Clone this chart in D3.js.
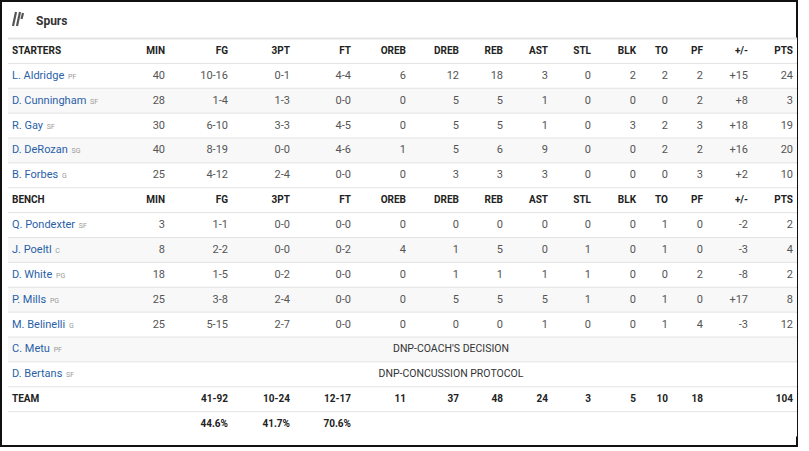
<!DOCTYPE html><html><head><meta charset="utf-8">
<script src="https://cdn.jsdelivr.net/npm/d3@7"></script>
<style>body{margin:0;background:#fff;font-family:Roboto,Arial,sans-serif}</style></head><body>
<svg id="c" width="809" height="451"></svg>
<script>
const team="Spurs";
const columns=["MIN","FG","3PT","FT","OREB","DREB","REB","AST","STL","BLK","TO","PF","+/-","PTS"];
const colRight=[165,228,290,351,406,459,503,548,591,636,668,703,748,793];
const starters=[
["L. Aldridge","PF",["40","10-16","0-1","4-4","6","12","18","3","0","2","2","2","+15","24"]],
["D. Cunningham","SF",["28","1-4","1-3","0-0","0","5","5","1","0","0","0","2","+8","3"]],
["R. Gay","SF",["30","6-10","3-3","4-5","0","5","5","1","0","3","2","3","+18","19"]],
["D. DeRozan","SG",["40","8-19","0-0","4-6","1","5","6","9","0","0","2","2","+16","20"]],
["B. Forbes","G",["25","4-12","2-4","0-0","0","3","3","3","0","0","0","3","+2","10"]]];
const bench=[
["Q. Pondexter","SF",["3","1-1","0-0","0-0","0","0","0","0","0","0","1","0","-2","2"]],
["J. Poeltl","C",["8","2-2","0-0","0-2","4","1","5","0","1","0","1","0","-3","4"]],
["D. White","PG",["18","1-5","0-2","0-0","0","1","1","1","1","0","0","2","-8","2"]],
["P. Mills","PG",["25","3-8","2-4","0-0","0","5","5","5","1","0","1","0","+17","8"]],
["M. Belinelli","G",["25","5-15","2-7","0-0","0","0","0","1","0","0","1","4","-3","12"]],
["C. Metu","PF","DNP-COACH'S DECISION"],
["D. Bertans","SF","DNP-CONCUSSION PROTOCOL"]];
const teamTotals=["","41-92","10-24","12-17","11","37","48","24","3","5","10","18","","104"];
const teamPct=["","44.6%","41.7%","70.6%","","","","","","","","","",""];

const rows=[{t:"head",label:"STARTERS"},...starters.map(d=>({t:"p",d})),{t:"head",label:"BENCH"},...bench.map(d=>({t:"p",d})),{t:"team",vals:teamTotals,label:"TEAM"},{t:"team",vals:teamPct,label:""}];
const svg=d3.select("#c");
svg.append("rect").attr("x",1).attr("y",1).attr("width",796).attr("height",445).attr("fill","#fff").attr("stroke","#111").attr("stroke-width",2);
svg.append("path").attr("d","M16 12 l-3 14 M20 12 l-3 14 M23 13 l-1.5 6").attr("stroke","#555").attr("stroke-width",2.2).attr("fill","none");
svg.append("text").attr("x",36).attr("y",25).text(team).attr("font-size",12).attr("font-weight","bold").attr("fill","#333");
const y=d3.scaleBand().domain(d3.range(rows.length)).range([38.5,436.5]);
const g=svg.selectAll("g.r").data(rows).join("g").attr("transform",(d,i)=>`translate(0,${y(i)})`);
g.append("rect").attr("x",8).attr("width",789).attr("height",y.bandwidth()).attr("fill",(d,i)=>i%2==0&&d.t=="p"?"#f8f8f8":"#fff");
g.append("line").attr("x1",8).attr("x2",797).attr("stroke","#e3e3e3").attr("stroke-width",(d,i)=>i==0?2:1);
const mid=y.bandwidth()/2+3;
g.each(function(d){
  const s=d3.select(this);
  if(d.t=="head"){
    s.append("text").attr("x",12).attr("y",mid).text(d.label).attr("font-size",10).attr("font-weight","bold").attr("fill","#222");
    columns.forEach((c,j)=>s.append("text").attr("x",colRight[j]).attr("y",mid).attr("text-anchor","end").text(c).attr("font-size",10).attr("font-weight","bold").attr("fill","#222"));
  } else if(d.t=="p"){
    const t=s.append("text").attr("x",12).attr("y",mid).attr("font-size",11);
    t.append("tspan").text(d.d[0]).attr("fill","#2a5fa8");
    t.append("tspan").text(" "+d.d[1]).attr("font-size",7).attr("fill","#999").attr("dx",2);
    if(typeof d.d[2]=="string") s.append("text").attr("x",451).attr("y",mid).attr("text-anchor","middle").text(d.d[2]).attr("font-size",10.5).attr("fill","#333");
    else d.d[2].forEach((v,j)=>s.append("text").attr("x",colRight[j]).attr("y",mid).attr("text-anchor","end").text(v).attr("font-size",11).attr("fill","#555"));
  } else {
    s.append("text").attr("x",12).attr("y",mid).text(d.label).attr("font-size",10).attr("font-weight","bold").attr("fill","#222");
    d.vals.forEach((v,j)=>s.append("text").attr("x",colRight[j]).attr("y",mid).attr("text-anchor","end").text(v).attr("font-size",10).attr("font-weight","bold").attr("fill","#222"));
  }
});
</script></body></html>
